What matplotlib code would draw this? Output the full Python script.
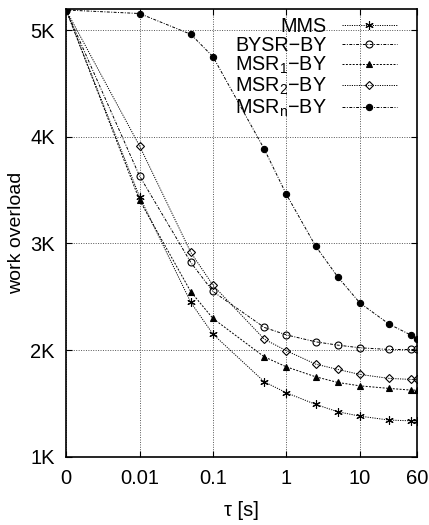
import numpy as np
import matplotlib
matplotlib.use("Agg")
import matplotlib.pyplot as plt
from matplotlib.ticker import FixedLocator, FuncFormatter, NullLocator

plt.rcParams['font.family'] = ['Liberation Sans', 'DejaVu Sans']
plt.rcParams['mathtext.fontset'] = 'custom'
plt.rcParams['mathtext.rm'] = 'Liberation Sans'
plt.rcParams['mathtext.it'] = 'Liberation Sans:italic'

# pauza tau [s]; tau=0 rysujemy na pozycji 0.001 (skala log)
tau = [0, 0.01, 0.05, 0.1, 0.5, 1, 2.5, 5, 10, 25, 50, 60]

mms    = [5190, 3440, 2447, 2150, 1703, 1600, 1491, 1422, 1381, 1344, 1337, 1337]
bysr   = [5190, 3634, 2822, 2550, 2213, 2143, 2078, 2047, 2022, 2006, 2006, 2006]
msr1   = [5190, 3407, 2547, 2297, 1937, 1843, 1750, 1697, 1665, 1641, 1625, 1625]
msr2   = [5190, 3916, 2916, 2609, 2103, 1994, 1869, 1819, 1772, 1735, 1725, 1725]
msrn   = [5190, 5157, 4962, 4752, 3885, 3460, 2976, 2687, 2443, 2244, 2140, 2103]

labels = ['MMS', 'BYSR\u2212BY', 'MSR$_\\mathregular{1}$\u2212BY',
          'MSR$_\\mathregular{2}$\u2212BY', 'MSR$_\\mathregular{n}$\u2212BY']

xticks = [0.001, 0.01, 0.1, 1, 10, 60]
xticklabels = ['0', '0.01', '0.1', '1', '10', '60']
yticks = [1000, 2000, 3000, 4000, 5000]

x = np.array([t if t > 0 else 0.001 for t in tau])

fig = plt.figure(figsize=(4.29, 5.25), dpi=100)
ax = fig.add_axes([0.154, 0.130, 0.818, 0.853])

styles = [
    dict(marker=(6, 2, 0), ms=6, mfc='black', ls=(0, (1.2, 1.2))),
    dict(marker='o', ms=5, mfc='none', ls=(0, (3, 1.5, 1, 1.5))),
    dict(marker='^', ms=4.5, mfc='black', ls=(0, (2, 1.5))),
    dict(marker='D', ms=4, mfc='none', ls=(0, (1.2, 1.2))),
    dict(marker='o', ms=4.5, mfc='black', ls=(0, (3, 1.5, 1, 1.5))),
]
for ys, lab, st in zip([mms, bysr, msr1, msr2, msrn], labels, styles):
    ax.plot(x, ys, color='black', lw=0.7, mec='black', mew=0.8,
            label=lab, **st)

ax.set_xscale('log')
ax.set_xlim(0.001, 60)
ax.set_ylim(1000, 5200)
ax.xaxis.set_major_locator(FixedLocator(xticks))
ax.xaxis.set_minor_locator(NullLocator())
ax.set_xticklabels(xticklabels)
ax.yaxis.set_major_locator(FixedLocator(yticks))
ax.yaxis.set_major_formatter(FuncFormatter(lambda v, p: '%dK' % round(v / 1000)))

ax.grid(True, color='#555555', ls=(0, (1, 1.5)), lw=0.7)
ax.tick_params(direction='in', length=4, width=0.8, labelsize=14.5,
               top=True, right=True)
ax.tick_params(axis='x', pad=9)
ax.tick_params(axis='y', pad=8)
for s in ax.spines.values():
    s.set_linewidth(1.2)

ax.set_xlabel('\u03c4 [s]', fontsize=14.5, labelpad=9)
ax.set_ylabel('work overload', fontsize=14, labelpad=4)

ax.legend(loc='upper right', frameon=False, markerfirst=False, fontsize=14.2,
          handlelength=2.8, handletextpad=0.75, labelspacing=0.0,
          borderaxespad=0.0, bbox_to_anchor=(0.965, 1.0))

fig.savefig('out.png', dpi=100)
